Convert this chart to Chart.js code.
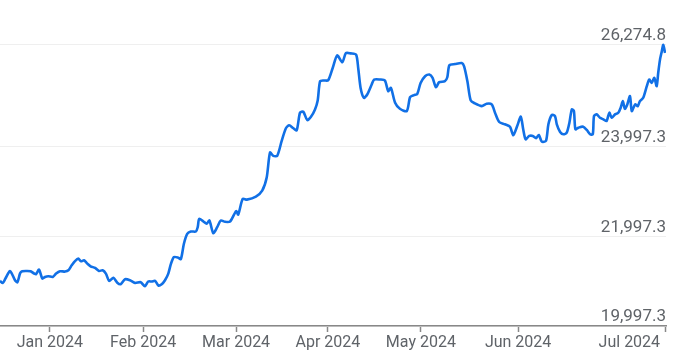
<!DOCTYPE html>
<html>
<head>
<meta charset="utf-8">
<script src="https://cdn.jsdelivr.net/npm/chart.js@4.4.1/dist/chart.umd.min.js"></script>
<style>
  html, body { margin: 0; padding: 0; background: #ffffff; }
  #wrap { width: 685px; height: 363px; }
</style>
</head>
<body>
<div id="wrap"><canvas id="myChart" width="685" height="363"></canvas></div>
<script>
// day offsets (from mid Dec 2023) and closing values
var days = [
  0, 0.9, 1.7, 2.8, 3.3, 3.9, 5, 5.8, 6.7, 7.4, 8.9, 10.2, 11.4, 12, 13, 14.1, 15, 16.1, 17.6, 18.7,
  20, 21.7, 22.8, 23.9, 25, 26.1, 27, 28, 29.1, 30.2, 31.7, 33, 34.2, 35.3, 36.4, 37.8, 39.1, 40.2, 41.7, 43.3,
  45, 46.9, 48.3, 49.4, 50.6, 51.7, 52.8, 53.9, 55, 56.1, 57, 58, 59.4, 60.3, 61.3, 62.4, 63.6, 65.3, 65.9, 66.4,
  67.8, 68.9, 69.8, 71.1, 72.4, 73.6, 75, 76.7, 78.7, 79.4, 80.9, 82.3, 85.3, 87.4, 88.9, 90, 91.1, 92.4, 93.9, 95.3,
  96.4, 97.8, 98.9, 100, 101.1, 102.4, 103.6, 105, 105.9, 106.7, 108, 109.4, 110.9, 112.4, 114.1, 115.3, 116.9, 118.7, 119.4, 120.2,
  121.3, 122.4, 123.9, 124.7, 126.7, 128.3, 129.4, 130.3, 131.7, 133.3, 135.6, 136.7, 138, 139.1, 140.2, 141.7, 143.1, 144.2, 145.3, 146.4,
  148.3, 149.1, 149.8, 151.7, 153.9, 154.7, 155.8, 156.9, 158.3, 160.6, 162.2, 163.9, 165, 166.4, 168.3, 170, 171.1, 172.4, 173.6, 174.4,
  175.2, 176.4, 177.6, 178.7, 179.6, 180.6, 182, 182.8, 183.9, 185, 185.6, 186.7, 187.8, 188.9, 189.8, 190.6, 191.3, 191.8, 192.8, 194.4,
  195.6, 196.7, 197.6, 198, 198.9, 200, 201.1, 202.2, 203.1, 203.9, 205, 206.1, 206.9, 207.6, 208.3, 209.1, 210, 210.6, 211.7, 212.6,
  213.3, 214.4, 215.6, 216.4, 217.2, 218.1, 218.9, 219.4, 220, 220.6, 221.1, 221.7
];
var rates = [
  21004, 20960, 21042, 21182, 21226, 21175, 21020, 20975, 21175, 21220, 21226, 21220, 21168, 21153, 21257, 21057, 21093, 21108, 21093, 21168,
  21220, 21213, 21242, 21353, 21448, 21502, 21442, 21464, 21391, 21331, 21293, 21226, 21242, 21168, 21004, 21075, 20964, 20931, 21042, 21020,
  20960, 20975, 20886, 20991, 20991, 21004, 20902, 20931, 21020, 21168, 21391, 21537, 21524, 21493, 21835, 22057, 22108, 22108, 22204, 22391,
  22331, 22280, 22353, 22071, 22204, 22353, 22324, 22331, 22560, 22486, 22835, 22820, 22886, 23020, 23315, 23871, 23797, 23797, 24131, 24413,
  24480, 24413, 24368, 24760, 24782, 24597, 24664, 24835, 25035, 25464, 25480, 25486, 25760, 26042, 25886, 26093, 26086, 26057, 25760, 25315,
  25093, 25168, 25391, 25502, 25502, 25480, 25242, 25315, 24982, 24848, 24797, 25108, 25153, 25182, 25426, 25575, 25613, 25537, 25331, 25442,
  25464, 25553, 25820, 25848, 25871, 25797, 25464, 25035, 24968, 24908, 24960, 24946, 24760, 24553, 24502, 24448, 24257, 24464, 24671, 24391,
  24168, 24242, 24242, 24191, 24264, 24115, 24131, 24502, 24708, 24686, 24502, 24331, 24280, 24315, 24537, 24835, 24797, 24391, 24426, 24448,
  24375, 24280, 24280, 24686, 24724, 24648, 24613, 24575, 24760, 24648, 24724, 24760, 24871, 25020, 24848, 24946, 25131, 24797, 24946, 24908,
  25020, 25093, 25353, 25502, 25426, 25537, 25353, 25648, 25946, 26131, 26274.8, 26093
];
var monthDays = [16.6, 47.7, 78.7, 109.3, 140.3, 172.7, 221.7];
var monthLabels = ["Jan 2024", "Feb 2024", "Mar 2024", "Apr 2024", "May 2024", "Jun 2024", "Jul 2024"];
var yTicks = [19997.3, 21997.3, 23997.3, 26274.8];

var points = days.map(function (d, i) { return { x: d, y: rates[i] }; });

// month names under the axis, last one pulled left so it fits
var monthLabelPlugin = {
  id: 'monthLabels',
  afterDraw: function (chart) {
    var ctx = chart.ctx;
    var xs = chart.scales.x;
    ctx.save();
    ctx.font = '16px Roboto';
    ctx.fillStyle = '#5f6368';
    ctx.textBaseline = 'alphabetic';
    monthDays.forEach(function (d, i) {
      var px = xs.getPixelForValue(d);
      if (i === monthDays.length - 1) {
        ctx.textAlign = 'right';
        px -= 5;
      } else {
        ctx.textAlign = 'center';
      }
      ctx.fillText(monthLabels[i], px, 347);
    });
    ctx.restore();
  }
};

var ctx = document.getElementById("myChart");
new Chart(ctx, {
  type: 'line',
  data: {
    datasets: [{
      data: points,
      borderColor: '#1170e6',
      borderWidth: 2.6,
      pointRadius: 0,
      tension: 0.25,
      fill: false
    }]
  },
  options: {
    responsive: false,
    animation: false,
    layout: { autoPadding: false, padding: { left: 0, right: 19, top: 0, bottom: 31 } },
    plugins: { legend: { display: false }, tooltip: { enabled: false } },
    scales: {
      x: {
        type: 'linear',
        min: 0,
        max: 222,
        afterBuildTicks: function (scale) {
          scale.ticks = monthDays.map(function (d) { return { value: d }; });
        },
        ticks: { display: false },
        grid: { drawOnChartArea: false, drawTicks: true, tickLength: 6, tickColor: '#888888', tickWidth: 1.5 },
        border: { display: true, color: '#888888', width: 1.5 }
      },
      y: {
        position: 'right',
        min: 19997.3,
        max: 27050,
        afterBuildTicks: function (scale) {
          scale.ticks = yTicks.map(function (v) { return { value: v }; });
        },
        ticks: {
          mirror: true,
          padding: 0,
          labelOffset: -9,
          color: '#5f6368',
          font: { family: 'Roboto', size: 17 },
          callback: function (v) {
            return Number(v).toLocaleString('en-US', { minimumFractionDigits: 1, maximumFractionDigits: 1 });
          }
        },
        grid: { color: '#efefef', lineWidth: 1, drawTicks: false },
        border: { display: false }
      }
    }
  },
  plugins: [monthLabelPlugin]
});
</script>
</body>
</html>
